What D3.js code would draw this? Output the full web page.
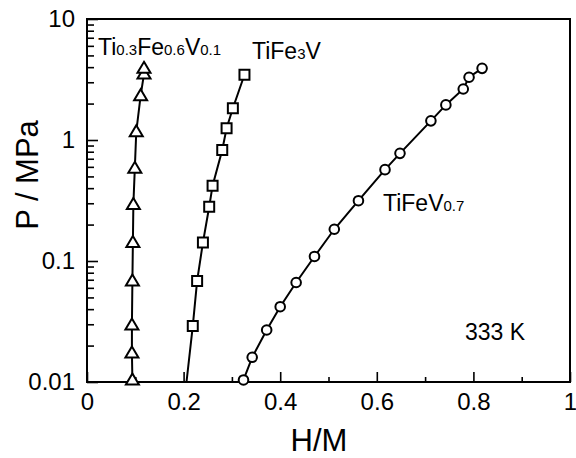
<!DOCTYPE html>
<html>
<head>
<meta charset="utf-8">
<script src="https://d3js.org/d3.v7.min.js"></script>
<style>
    body { margin: 0; background: #fff; }
    svg { font-family: "Liberation Sans", Arial, Helvetica, sans-serif; }
    .tick text { font-size: 24px; fill: #000; }
    .series { fill: none; stroke: #000; stroke-width: 2px; }
    .marker { fill: #fff; stroke: #000; stroke-width: 2px; }
</style>
</head>
<body>
<svg width="576" height="458"></svg>
<script>
    // Ti0.3Fe0.6V0.1 (triangles)
    const triX = [0.094, 0.093, 0.093, 0.094, 0.095, 0.096, 0.099, 0.102, 0.111, 0.118, 0.118];
    const triP = [0.0104, 0.0174, 0.0296, 0.0684, 0.142, 0.293, 0.583, 1.17, 2.32, 3.51, 3.91];

    // TiFe3V (squares); first point is where the line meets the axis, no marker
    const sqX = [0.206, 0.219, 0.228, 0.240, 0.253, 0.260, 0.280, 0.289, 0.302, 0.326];
    const sqP = [0.010, 0.029, 0.0684, 0.142, 0.281, 0.419, 0.826, 1.25, 1.83, 3.46];

    // TiFeV0.7 (circles)
    const ciX = [0.324, 0.342, 0.372, 0.400, 0.433, 0.471, 0.512, 0.562, 0.617, 0.648, 0.712, 0.743, 0.779, 0.791, 0.818];
    const ciP = [0.0104, 0.016, 0.0269, 0.0419, 0.0664, 0.109, 0.183, 0.315, 0.569, 0.776, 1.44, 1.95, 2.64, 3.30, 3.91];

    const xTicks = [0, 0.2, 0.4, 0.6, 0.8, 1];
    const xMinor = [0.1, 0.3, 0.5, 0.7, 0.9];
    const yTicks = [0.01, 0.1, 1, 10];
    const yLabels = ["0.01", "0.1", "1", "10"];

    const svg = d3.select("svg");
    const m = { left: 87, right: 570, top: 19, bottom: 382 };

    const x = d3.scaleLinear().domain([0, 1]).range([m.left, m.right]);
    const y = d3.scaleLog().domain([0.01, 10]).range([m.bottom, m.top]);

    // minor y ticks (2..9 per decade)
    const yMinor = y.ticks().filter(v => !yTicks.some(t => Math.abs(t - v) < 1e-9));

    svg.append("g")
        .attr("transform", `translate(${m.left},0)`)
        .call(d3.axisLeft(y).tickValues(yMinor).tickSize(-7).tickFormat(""))
        .call(g => g.select(".domain").remove())
        .call(g => g.selectAll("line").attr("stroke-width", 1.6));

    svg.append("g")
        .attr("transform", `translate(${m.left},0)`)
        .call(d3.axisLeft(y).tickValues(yTicks).tickSize(-11).tickPadding(12)
            .tickFormat((d, i) => yLabels[i]))
        .call(g => g.select(".domain").remove())
        .call(g => g.selectAll("line").attr("stroke-width", 1.6));

    svg.append("g")
        .attr("transform", `translate(0,${m.bottom})`)
        .call(d3.axisBottom(x).tickValues(xMinor).tickSize(-5).tickFormat(""))
        .call(g => g.select(".domain").remove())
        .call(g => g.selectAll("line").attr("stroke-width", 1.6));

    svg.append("g")
        .attr("transform", `translate(0,${m.bottom})`)
        .call(d3.axisBottom(x).tickValues(xTicks).tickSize(-10).tickPadding(6)
            .tickFormat(d => d === 0 || d === 1 ? d3.format("d")(d) : d3.format(".1f")(d)))
        .call(g => g.select(".domain").remove())
        .call(g => g.selectAll("line").attr("stroke-width", 1.6))
        .call(g => g.selectAll("text").attr("dy", "0.9em"));

    // frame
    svg.append("rect")
        .attr("x", m.left).attr("y", m.top)
        .attr("width", m.right - m.left).attr("height", m.bottom - m.top)
        .attr("fill", "none").attr("stroke", "#000").attr("stroke-width", 2);

    const line = d3.line().x(d => x(d[0])).y(d => y(d[1]));

    const tri = d3.zip(triX, triP);
    const sq = d3.zip(sqX, sqP);
    const ci = d3.zip(ciX, ciP);

    [tri, sq, ci].forEach(s => svg.append("path").attr("class", "series").attr("d", line(s)));

    svg.selectAll(".tri").data(tri).enter().append("path")
        .attr("class", "marker")
        .attr("d", "M0,-6.5L6.5,4.5L-6.5,4.5Z")
        .attr("transform", d => `translate(${x(d[0])},${y(d[1])})`);

    svg.selectAll(".sq").data(sq.slice(1)).enter().append("path")
        .attr("class", "marker")
        .attr("d", d3.symbol(d3.symbolSquare, 100))
        .attr("transform", d => `translate(${x(d[0])},${y(d[1])})`);

    svg.selectAll(".ci").data(ci).enter().append("circle")
        .attr("class", "marker")
        .attr("r", 4.8)
        .attr("cx", d => x(d[0])).attr("cy", d => y(d[1]));

    // labels with small inline indices
    function label(xp, yp, parts) {
        const t = svg.append("text").attr("x", xp).attr("y", yp);
        parts.forEach(p => t.append("tspan").text(p[0]).attr("font-size", p[1] ? 15 : 23));
    }
    label(98, 55, [["Ti", 0], ["0.3", 1], ["Fe", 0], ["0.6", 1], ["V", 0], ["0.1", 1]]);
    label(252, 59, [["TiFe", 0], ["3", 1], ["V", 0]]);
    label(383, 211, [["TiFeV", 0], ["0.7", 1]]);
    label(465, 340, [["333 K", 0]]);

    svg.append("text")
        .attr("x", 319).attr("y", 451)
        .attr("text-anchor", "middle")
        .attr("font-size", 31)
        .text("H/M");

    svg.append("text")
        .attr("transform", "translate(38,175) rotate(-90)")
        .attr("text-anchor", "middle")
        .attr("font-size", 31)
        .text("P / MPa");
</script>
</body>
</html>
